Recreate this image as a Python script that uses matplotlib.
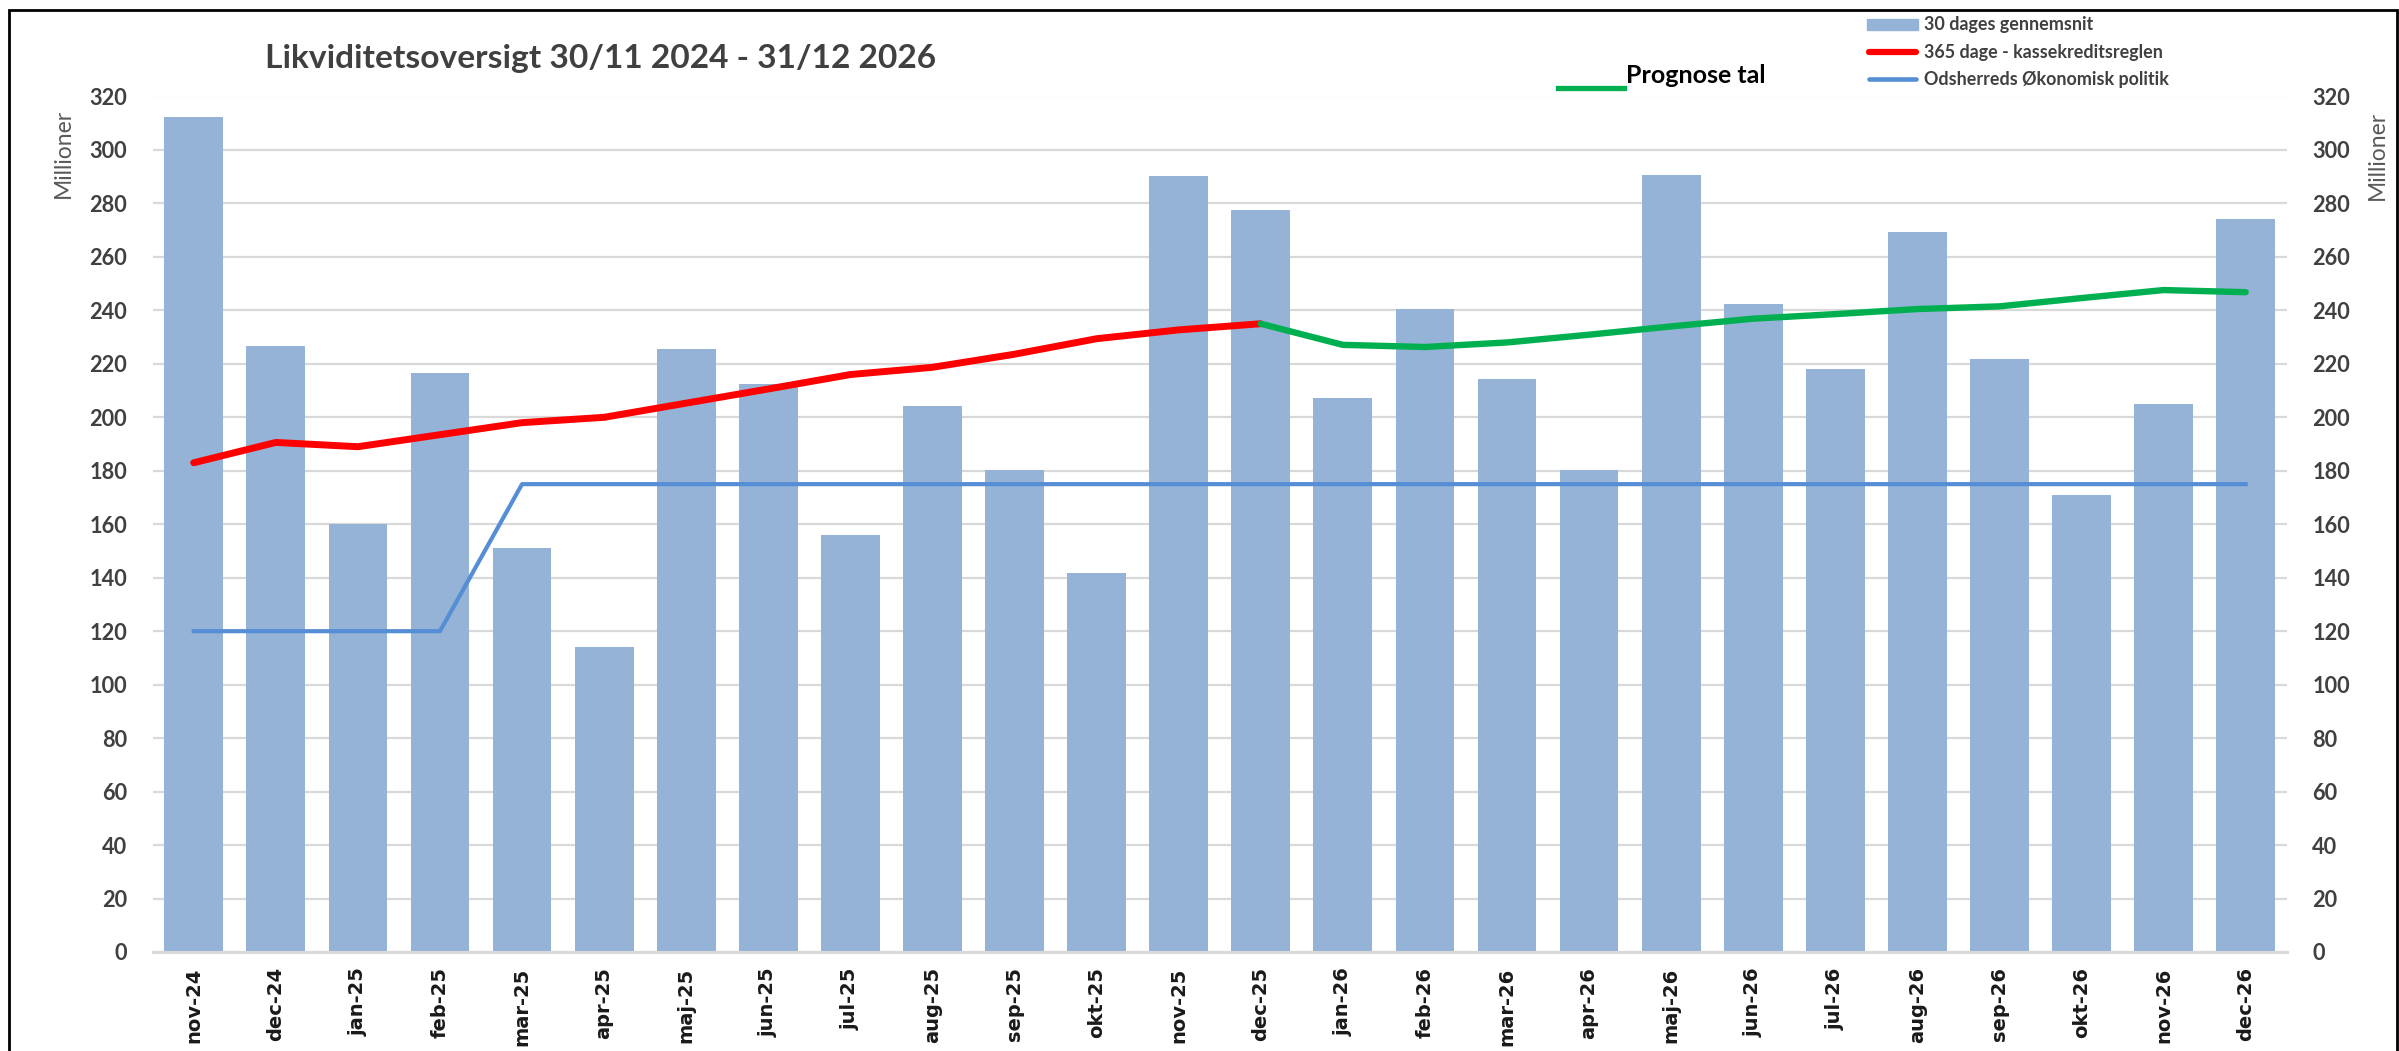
import numpy as np
import matplotlib
matplotlib.use("Agg")
import matplotlib.pyplot as plt
from matplotlib.patches import Rectangle
from matplotlib.lines import Line2D

plt.rcParams['font.family'] = ['Lato', 'DejaVu Sans']
plt.rcParams['font.weight'] = 'bold'

# ---- data ----
months = ['nov-24', 'dec-24', 'jan-25', 'feb-25', 'mar-25', 'apr-25', 'maj-25', 'jun-25',
          'jul-25', 'aug-25', 'sep-25', 'okt-25', 'nov-25', 'dec-25', 'jan-26', 'feb-26',
          'mar-26', 'apr-26', 'maj-26', 'jun-26', 'jul-26', 'aug-26', 'sep-26', 'okt-26',
          'nov-26', 'dec-26']
avg_30 = [312.4, 226.7, 160.0, 216.7, 151.2, 114.0, 225.5, 212.4, 155.8, 204.1, 180.2, 141.9,
          290.4, 277.5, 207.1, 240.5, 214.3, 180.3, 290.6, 242.5, 218.1, 269.5, 221.9, 170.8,
          205.1, 274.1]
# 365 dage - kassekreditsreglen (nov-24 .. dec-25)
kassekredit = [183.0, 190.6, 189.0, 193.5, 198.0, 200.0, 205.3, 210.6, 216.0, 218.7, 223.6,
               229.4, 232.7, 235.0]
# prognose (dec-25 .. dec-26)
prognose = [235.0, 227.1, 226.3, 228.0, 230.9, 234.0, 236.9, 238.6, 240.5, 241.5, 244.6,
            247.6, 246.8]
politik = [120, 120, 120, 120] + [175] * 22

title = 'Likviditetsoversigt 30/11 2024 - 31/12 2026'

W, H = 2399, 1051


def fx(px):
    return px / W


def fy(py):
    return 1 - py / H


fig = plt.figure(figsize=(W / 100, H / 100), dpi=100)
ax = fig.add_axes([fx(152.7), fy(952), (2286.7 - 152.7) / W, (952 - 96.5) / H])

x = np.arange(len(months))
ax.bar(x, avg_30, width=0.716, color='#95B3D7', zorder=2)
ax.plot(x, politik, color='#558ED5', lw=3.0, zorder=3)
ax.plot(x[:len(kassekredit)], kassekredit, color='#FF0000', lw=5, zorder=4,
        solid_capstyle='round', solid_joinstyle='round')
ax.plot(x[len(kassekredit) - 1:], prognose, color='#00B050', lw=4.6, zorder=4,
        solid_capstyle='round', solid_joinstyle='round')

ax.set_xlim(-0.5, len(months) - 0.5)
ax.set_ylim(0, 320)
ax.set_yticks(range(0, 321, 20))
ax.grid(axis='y', color='#D9D9D9', lw=1.6, zorder=0)
ax.set_axisbelow(True)
for s in ['top', 'left', 'right']:
    ax.spines[s].set_visible(False)
ax.spines['bottom'].set_color('#D9D9D9')
ax.spines['bottom'].set_linewidth(2.2)

ax.set_xticks(x)
ax.set_xticklabels(months, rotation=90, fontfamily='DejaVu Sans', fontweight='bold',
                   fontsize=14, color='#1a1a1a')
ax.tick_params(axis='x', length=0, pad=11)
ax.tick_params(axis='y', length=0, pad=18.5, labelright=True, labelsize=15.7,
               labelcolor='#404040')

# titles / axis labels
fig.text(fx(265), fy(68.3), title, fontsize=24.1, weight='bold', color='#404040',
         va='baseline')
fig.text(fx(63), fy(153), 'Millioner', rotation=90, ha='center', va='center',
         fontsize=16.5, weight='normal', color='#595959')
fig.text(fx(2377), fy(155), 'Millioner', rotation=90, ha='center', va='center',
         fontsize=16.5, weight='normal', color='#595959')

# prognose marker
fig.add_artist(Line2D([fx(1558), fx(1624)], [fy(88), fy(88)], color='#00B050', lw=3.8))
fig.text(fx(1626), fy(83), 'Prognose tal', fontsize=18, weight='bold', color='black',
         va='baseline')

# legend
fig.add_artist(Rectangle((fx(1867), fy(30)), (1918 - 1867) / W, 11 / H,
                         color='#95B3D7', transform=fig.transFigure))
fig.add_artist(Line2D([fx(1869), fx(1916)], [fy(51.7), fy(51.7)], color='#FF0000', lw=4.5,
                      solid_capstyle='round'))
fig.add_artist(Line2D([fx(1869), fx(1916)], [fy(79), fy(79)], color='#558ED5', lw=3.3,
                      solid_capstyle='round'))
leg_labels = ['30 dages gennemsnit', '365 dage - kassekreditsreglen',
              'Odsherreds Økonomisk politik']
for lab, base in zip(leg_labels, [30, 57.7, 85]):
    fig.text(fx(1924), fy(base), lab, fontsize=12.9, weight='bold', color='#404040',
             va='baseline')

# outer border
fig.add_artist(Rectangle((fx(9), -0.05), (2397 - 9) / W, fy(10) + 0.05, fill=False,
                         ec='black', lw=2, transform=fig.transFigure, clip_on=False))

fig.savefig('out.png', dpi=100, facecolor='white')
